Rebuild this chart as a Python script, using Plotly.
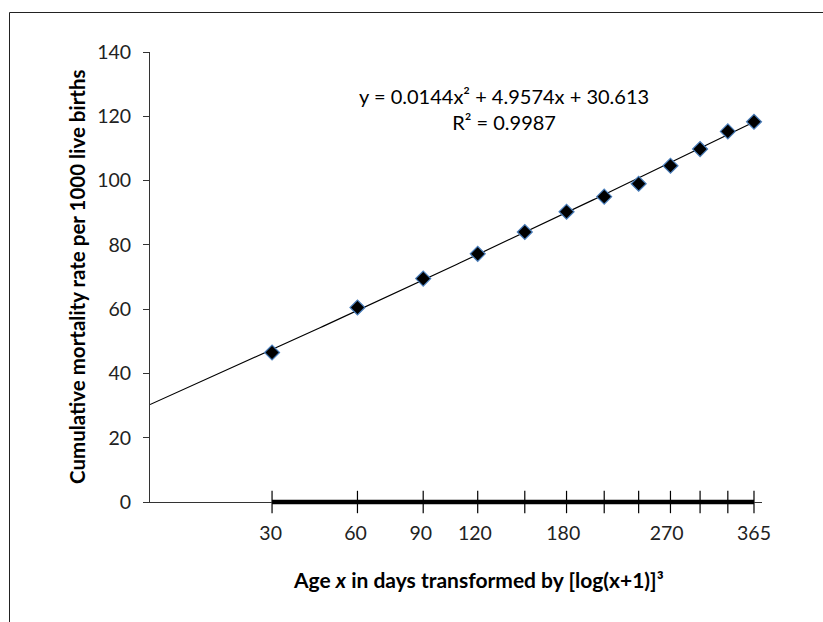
import numpy as np
import plotly.graph_objects as go

# ---- data ----
days = [30.42, 60.83, 91.25, 121.67, 152.08, 182.5, 212.92, 243.33, 273.75, 304.17, 334.58, 365]
mortality = [46.5, 60.5, 69.5, 77.2, 84.0, 90.3, 95.0, 99.0, 104.6, 109.8, 115.3, 118.3]
label_days = [30, 60, 90, 120, 180, 270, 365]
trend_coef = [0.0144, 4.9574, 30.613]
r_squared = 0.9987
y_ticks = [0, 20, 40, 60, 80, 100, 120, 140]

def transform(d):
    return np.log10(np.asarray(d, dtype=float) + 1) ** 3

xt = transform(days)
x_range = [-0.06, 17.07]

# trendline from the displayed polynomial (backward forecast to axis start)
xl = np.linspace(x_range[0], xt.max(), 200)
yl = np.polyval(trend_coef, xl)

FONT = "Lato"
AX = "#333333"

fig = go.Figure()

fig.add_trace(go.Scatter(
    x=xl, y=yl, mode="lines",
    line=dict(color="black", width=1.2),
    hoverinfo="skip", showlegend=False))

fig.add_trace(go.Scatter(
    x=xt, y=mortality, mode="markers",
    marker=dict(symbol="diamond", size=11.5, color="black",
                line=dict(color="#4a7ebb", width=1.2)),
    showlegend=False, cliponaxis=False))

# crossing tick marks at each data point on the x axis
fig.add_trace(go.Scatter(
    x=xt, y=[0] * len(xt), mode="markers",
    marker=dict(symbol="line-ns", size=16, color="black",
                line=dict(color="black", width=1.2)),
    hoverinfo="skip", showlegend=False, cliponaxis=False))

shapes = [
    # thick bar along the axis spanning the data
    dict(type="line", xref="x", yref="paper", x0=float(xt.min()), x1=float(xt.max()),
         y0=0, y1=0, line=dict(color="black", width=4.5), layer="above"),
    # outer chart frame (cropped at right/bottom)
    dict(type="rect", xref="paper", yref="paper",
         x0=(9.5 - 150) / 612, x1=(835 - 150) / 612,
         y0=(502 - 640) / 450, y1=(502 - 12.5) / 450,
         line=dict(color="#222222", width=1), layer="below"),
]

eq_text = (f"y = {trend_coef[0]}x² + {trend_coef[1]}x + {trend_coef[2]}"
           f"<br>R² = {r_squared}")

annotations = [
    dict(text="Cumulative mortality rate per 1000 live births",
         xref="paper", yref="paper", x=(77 - 150) / 612, y=0.5,
         textangle=-90, showarrow=False, xanchor="center", yanchor="middle",
         font=dict(family=FONT, size=20.5, color="black", weight="bold")),
    dict(text="Age <i>x</i> in days transformed by [log(x+1)]³",
         xref="paper", yref="paper", x=(478 - 150) / 612, y=(502 - 579) / 450,
         showarrow=False, xanchor="center", yanchor="middle",
         font=dict(family=FONT, size=21, color="black", weight="bold")),
    dict(text=eq_text, xref="paper", yref="paper",
         x=(504 - 150) / 612, y=(502 - 109) / 450,
         showarrow=False, xanchor="center", yanchor="middle", align="center",
         font=dict(family=FONT, size=20, color="black")),
]

fig.update_layout(
    width=823, height=622,
    margin=dict(l=150, r=61, t=52, b=120),
    paper_bgcolor="white", plot_bgcolor="white",
    font=dict(family=FONT, color="#222222"),
    shapes=shapes, annotations=annotations,
    xaxis=dict(range=x_range, showline=True, linecolor=AX, linewidth=1,
               showgrid=False, zeroline=False, ticks="",
               tickvals=transform(label_days).tolist(),
               ticktext=[str(d) for d in label_days],
               tickfont=dict(family=FONT, size=19.5, color="#222222"),
               ticklabelstandoff=14),
    yaxis=dict(range=[0, 140], showline=True, linecolor=AX, linewidth=1,
               showgrid=False, zeroline=False, ticks="outside", ticklen=6,
               tickcolor=AX, tickvals=y_ticks,
               tickfont=dict(family=FONT, size=19.5, color="#222222"),
               ticklabelstandoff=8),
)

fig.write_html("out.html")
